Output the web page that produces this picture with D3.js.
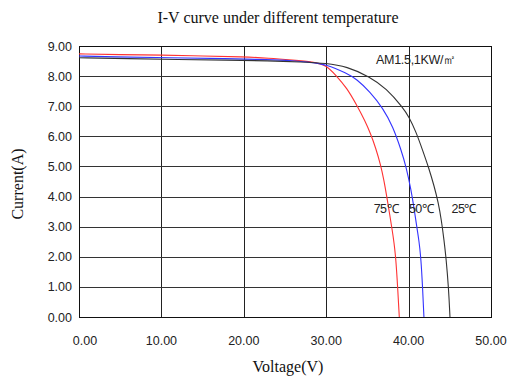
<!DOCTYPE html>
<html><head><meta charset="utf-8">
<script src="https://cdn.jsdelivr.net/npm/d3@7"></script>
<style>
html,body{margin:0;padding:0;background:#fff;}
svg{display:block;}
</style></head>
<body>
<script>
// ---- data ----
const title = "I-V curve under different temperature";
const xLabel = "Voltage(V)";
const yLabel = "Current(A)";
const xTicks = [0, 10, 20, 30, 40, 50];
const yTicks = [0, 1, 2, 3, 4, 5, 6, 7, 8, 9];
const seriesNames = ["75℃", "50℃", "25℃"];
const conditionLabel = "AM1.5,1KW/㎡";

const curve75 = [[0,8.74],[5,8.71],[10,8.70],[15,8.67],[20,8.64],[23,8.60],[26,8.53],[28.4,8.47],[30,8.37],[31.2,8.02],[32.5,7.61],[33.7,7.04],[34.7,6.52],[35.4,6.08],[36.0,5.62],[36.6,5.06],[37.0,4.55],[37.35,4.00],[37.75,3.33],[38.0,2.90],[38.22,2.50],[38.45,1.95],[38.67,1.00],[38.87,0]];
const curve50 = [[0,8.67],[4,8.64],[11,8.61],[18,8.58],[23,8.55],[26,8.51],[28,8.46],[30,8.39],[32.5,8.09],[33.7,7.90],[35.3,7.48],[36.9,6.93],[38.1,6.32],[39.1,5.54],[39.7,4.99],[40.3,4.22],[40.7,3.55],[41.05,2.89],[41.25,2.55],[41.5,1.95],[41.7,0.97],[41.86,0]];
const curve25 = [[0,8.61],[6,8.58],[12,8.55],[18,8.53],[23,8.51],[27,8.47],[30,8.43],[32.5,8.32],[35.27,7.98],[37.3,7.59],[39.3,6.96],[40.04,6.65],[40.9,6.15],[41.7,5.54],[42.45,4.95],[43.1,4.35],[43.6,3.80],[43.98,3.22],[44.3,2.55],[44.55,1.95],[44.85,0.97],[45.02,0]];
const seriesData = [curve75, curve50, curve25];
const labelVoltage = [35.76, 40.04, 45.2];
const labelCurrent = 3.45;

// ---- layout ----
const W = 524, H = 386;
const colors = ["#ff3333", "#3333ff", "#333333"];
const svg = d3.select("body").append("svg").attr("width", W).attr("height", H);

const x = d3.scaleLinear().domain([0, 50]).range([79, 491]);
const y = d3.scaleLinear().domain([0, 9]).range([317, 46]);

// gridlines
const g = svg.append("g").attr("shape-rendering", "crispEdges");
g.selectAll(".vg").data(xTicks).join("line")
  .attr("x1", d => Math.round(x(d)) + 0.5).attr("x2", d => Math.round(x(d)) + 0.5)
  .attr("y1", y(9)).attr("y2", y(0)).attr("stroke", "#222").attr("stroke-width", 1);
g.selectAll(".hg").data(yTicks).join("line")
  .attr("y1", d => Math.round(y(d)) + 0.5).attr("y2", d => Math.round(y(d)) + 0.5)
  .attr("x1", x(0)).attr("x2", x(50)).attr("stroke", "#333").attr("stroke-width", 1);
g.append("rect").attr("x", Math.round(x(0)) + 0.5).attr("y", Math.round(y(9)) + 0.5)
  .attr("width", Math.round(x(50)) - Math.round(x(0))).attr("height", Math.round(y(0)) - Math.round(y(9)))
  .attr("fill", "none").attr("stroke", "#111");

// tick labels
svg.selectAll(".yt").data(yTicks).join("text")
  .attr("x", 72).attr("y", d => y(d)).attr("dy", "0.36em")
  .attr("text-anchor", "end").attr("font-family", "Arial, 'Liberation Sans', sans-serif")
  .attr("font-size", 12.5).attr("fill", "#222").text(d => d3.format(".2f")(d));
svg.selectAll(".xt").data(xTicks).join("text")
  .attr("x", d => x(d) + (d === 0 ? 6 : 0)).attr("y", 345)
  .attr("text-anchor", "middle").attr("font-family", "Arial, 'Liberation Sans', sans-serif")
  .attr("font-size", 12.5).attr("fill", "#222").text(d => d3.format(".2f")(d));

// curves
svg.append("clipPath").attr("id", "clip").append("rect")
  .attr("x", x(0)).attr("y", y(9)).attr("width", x(50) - x(0)).attr("height", y(0) - y(9) + 1);
const line = d3.line().x(d => x(d[0])).y(d => y(d[1])).curve(d3.curveBasis);
svg.append("g").attr("clip-path", "url(#clip)").selectAll("path").data(seriesData).join("path")
  .attr("d", line).attr("fill", "none").attr("stroke", (d, i) => colors[i]).attr("stroke-width", 1.1);

// labels
svg.selectAll(".sl").data(seriesNames).join("text")
  .attr("x", (d, i) => x(labelVoltage[i])).attr("y", y(labelCurrent))
  .attr("font-family", "Arial, 'Liberation Sans', sans-serif").attr("font-size", 12.5)
  .attr("fill", "#222").attr("letter-spacing", "-0.5px").text(d => d);
svg.append("text").attr("x", 376).attr("y", 64)
  .attr("font-family", "Arial, 'Liberation Sans', sans-serif").attr("font-size", 12.5)
  .attr("fill", "#222").attr("letter-spacing", "-0.3px").text(conditionLabel);

svg.append("text").attr("x", 278).attr("y", 23).attr("text-anchor", "middle")
  .attr("font-family", "'Liberation Serif', 'Times New Roman', serif").attr("font-size", 16)
  .attr("fill", "#111").text(title);
svg.append("text").attr("x", 288).attr("y", 372).attr("text-anchor", "middle")
  .attr("font-family", "'Liberation Serif', 'Times New Roman', serif").attr("font-size", 16)
  .attr("fill", "#111").text(xLabel);
svg.append("text").attr("transform", "translate(23,184) rotate(-90)").attr("text-anchor", "middle")
  .attr("font-family", "'Liberation Serif', 'Times New Roman', serif").attr("font-size", 16)
  .attr("fill", "#111").text(yLabel);
</script>
</body></html>
